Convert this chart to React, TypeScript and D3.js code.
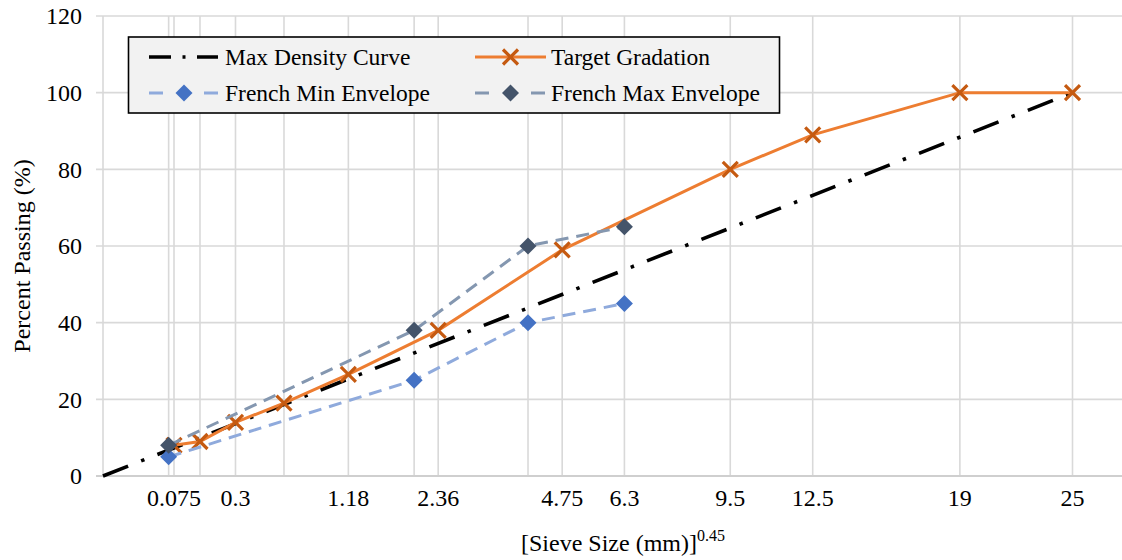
import React from "react";
import * as d3 from "d3";

// ---- Data ----
const xTickSieves = [0.075, 0.3, 1.18, 2.36, 4.75, 6.3, 9.5, 12.5, 19, 25];
const xTickLabels = ["0.075", "0.3", "1.18", "2.36", "4.75", "6.3", "9.5", "12.5", "19", "25"];
const gridSieves = [0.063, 0.075, 0.15, 0.3, 0.6, 1.18, 2, 2.36, 4, 4.75, 6.3, 9.5, 12.5, 19, 25];
const yTicks = [0, 20, 40, 60, 80, 100, 120];

const maxDensitySieve = [0, 25];
const maxDensityPassing = [0, 100];

const targetSieve = [0.075, 0.15, 0.3, 0.6, 1.18, 2.36, 4.75, 9.5, 12.5, 19, 25];
const targetPassing = [8, 9, 14, 19, 26.5, 38, 59, 80, 89, 100, 100];

const frenchMinSieve = [0.063, 2, 4, 6.3];
const frenchMinPassing = [5, 25, 40, 45];

const frenchMaxSieve = [0.063, 2, 4, 6.3];
const frenchMaxPassing = [8, 38, 60, 65];

const seriesNames = ["Max Density Curve", "Target Gradation", "French Min Envelope", "French Max Envelope"];

// ---- Styles ----
const FONT = "Liberation Serif";
const GRID = "#d9d9d9";
const ORANGE_LINE = "#ED7D31";
const ORANGE_MARK = "#C55A11";
const MIN_LINE = "#8FAADC";
const MIN_MARK = "#4472C4";
const MAX_LINE = "#8497B0";
const MAX_MARK = "#44546A";
const DASHDOT = "27 14 3.5 14";
const DASH = "13 8";

const W = 1122;
const H = 560;

const x = d3.scalePow().exponent(0.45).domain([0, 25]).range([103, 1072.5]);
const y = d3.scaleLinear().domain([0, 120]).range([476, 16]);

function zip(xs: number[], ys: number[]): [number, number][] {
  return xs.map((v, i) => [v, ys[i]] as [number, number]);
}

const line = d3
  .line<[number, number]>()
  .x((d) => x(d[0]))
  .y((d) => y(d[1]));

function Diamond({ cx, cy, fill, r = 8.5 }: { cx: number; cy: number; fill: string; r?: number }) {
  return (
    <path
      d={`M${cx},${cy - r}L${cx + r},${cy}L${cx},${cy + r}L${cx - r},${cy}Z`}
      fill={fill}
    />
  );
}

function XMark({ cx, cy, r = 7.5 }: { cx: number; cy: number; r?: number }) {
  return (
    <path
      d={`M${cx - r},${cy - r}L${cx + r},${cy + r}M${cx - r},${cy + r}L${cx + r},${cy - r}`}
      stroke={ORANGE_MARK}
      strokeWidth={3.2}
      fill="none"
    />
  );
}

export default function App() {
  const maxDensity = zip(maxDensitySieve, maxDensityPassing);
  const target = zip(targetSieve, targetPassing);
  const fMin = zip(frenchMinSieve, frenchMinPassing);
  const fMax = zip(frenchMaxSieve, frenchMaxPassing);

  const x0 = x(0);
  const legendY1 = 57;
  const legendY2 = 93;
  const tStyle = { fontFamily: FONT };

  return (
    <svg
      width={W}
      height={H}
      style={{ position: "absolute", left: 0, top: 0, background: "#fff", fontFamily: FONT }}
    >
      <rect x={0} y={0} width={W} height={H} fill="#fff" />
      {/* horizontal gridlines */}
      {yTicks.map((t) => (
        <line key={"h" + t} x1={96} x2={W} y1={y(t)} y2={y(t)} stroke={GRID} strokeWidth={1.6} />
      ))}
      {/* vertical gridlines */}
      <line x1={x0} x2={x0} y1={y(120)} y2={y(0)} stroke={GRID} strokeWidth={1.6} />
      {gridSieves.map((s) => (
        <line key={"v" + s} x1={x(s)} x2={x(s)} y1={y(120)} y2={y(0)} stroke={GRID} strokeWidth={1.6} />
      ))}
      <line x1={96} x2={W} y1={y(0)} y2={y(0)} stroke="#cfcfcf" strokeWidth={2} />

      {/* y tick labels */}
      {yTicks.map((t) => (
        <text key={"yl" + t} x={82} y={y(t)} dy="0.35em" textAnchor="end" fontSize={24} fill="#000" style={tStyle}>
          {t}
        </text>
      ))}
      {/* x tick labels */}
      {xTickSieves.map((s, i) => (
        <text key={"xl" + s} x={x(s)} y={506} textAnchor="middle" fontSize={24} fill="#000" style={tStyle}>
          {xTickLabels[i]}
        </text>
      ))}

      {/* axis titles */}
      <text transform="translate(30,256) rotate(-90)" textAnchor="middle" fontSize={24} fill="#000" style={tStyle}>
        Percent Passing (%)
      </text>
      <text x={521} y={551} fontSize={24} fill="#000" style={tStyle}>
        <tspan>[Sieve Size (mm)]</tspan>
        <tspan dy={-10} fontSize={16}>0.45</tspan>
      </text>

      {/* Max density curve */}
      <path d={line(maxDensity) || ""} fill="none" stroke="#000" strokeWidth={3.6} strokeDasharray={DASHDOT} />

      {/* Target gradation */}
      <path d={line(target) || ""} fill="none" stroke={ORANGE_LINE} strokeWidth={3} />
      {target.map((d, i) => (
        <XMark key={"t" + i} cx={x(d[0])} cy={y(d[1])} />
      ))}

      {/* French min */}
      <path d={line(fMin) || ""} fill="none" stroke={MIN_LINE} strokeWidth={3} strokeDasharray={DASH} />
      {fMin.map((d, i) => (
        <Diamond key={"mn" + i} cx={x(d[0])} cy={y(d[1])} fill={MIN_MARK} />
      ))}

      {/* French max */}
      <path d={line(fMax) || ""} fill="none" stroke={MAX_LINE} strokeWidth={3} strokeDasharray={DASH} />
      {fMax.map((d, i) => (
        <Diamond key={"mx" + i} cx={x(d[0])} cy={y(d[1])} fill={MAX_MARK} />
      ))}

      {/* Legend */}
      <rect x={128.5} y={37} width={651} height={76} fill="#f2f2f2" stroke="#000" strokeWidth={1.6} />
      <line x1={149} x2={218} y1={legendY1} y2={legendY1} stroke="#000" strokeWidth={3.6} strokeDasharray="22 11.5 3 11.5 22" />
      <text x={225} y={legendY1} dy="0.35em" fontSize={23.5} fill="#000" style={tStyle}>{seriesNames[0]}</text>
      <line x1={475} x2={546} y1={legendY1} y2={legendY1} stroke={ORANGE_LINE} strokeWidth={3} />
      <XMark cx={510.5} cy={legendY1} />
      <text x={551} y={legendY1} dy="0.35em" fontSize={23.5} fill="#000" style={tStyle}>{seriesNames[1]}</text>
      <line x1={149} x2={163} y1={legendY2} y2={legendY2} stroke={MIN_LINE} strokeWidth={3} />
      <line x1={204} x2={218} y1={legendY2} y2={legendY2} stroke={MIN_LINE} strokeWidth={3} />
      <Diamond cx={184} cy={legendY2} fill={MIN_MARK} />
      <text x={225} y={legendY2} dy="0.35em" fontSize={23.5} fill="#000" style={tStyle}>{seriesNames[2]}</text>
      <line x1={475} x2={489} y1={legendY2} y2={legendY2} stroke={MAX_LINE} strokeWidth={3} />
      <line x1={531} x2={545} y1={legendY2} y2={legendY2} stroke={MAX_LINE} strokeWidth={3} />
      <Diamond cx={510.5} cy={legendY2} fill={MAX_MARK} />
      <text x={551} y={legendY2} dy="0.35em" fontSize={23.5} fill="#000" style={tStyle}>{seriesNames[3]}</text>
    </svg>
  );
}
